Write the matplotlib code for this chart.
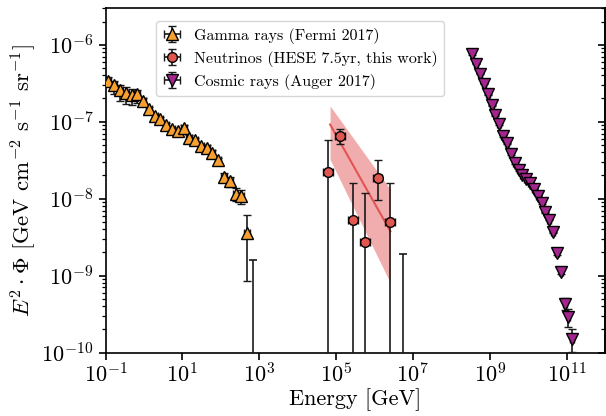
import numpy as np
import matplotlib
matplotlib.use("Agg")
import matplotlib.pyplot as plt

plt.rcParams['font.family'] = 'serif'
plt.rcParams['font.serif'] = ['cmr10', 'DejaVu Serif']
plt.rcParams['mathtext.fontset'] = 'cm'
plt.rcParams['axes.formatter.use_mathtext'] = True

# ---------------- Gamma rays (Fermi 2017) ----------------
gamma_E = [0.119, 0.168, 0.238, 0.337, 0.475, 0.673, 0.951, 1.35, 1.90, 2.69,
           3.80, 5.38, 7.60, 10.8, 15.2, 21.5, 30.4, 43.1, 60.8, 86.1,
           122, 172, 243, 344, 486]
gamma_flux = [3.37e-7, 2.96e-7, 2.58e-7, 2.33e-7, 2.22e-7, 2.26e-7, 1.85e-7, 1.44e-7,
              1.18e-7, 1.07e-7, 8.93e-8, 7.93e-8, 7.53e-8, 8.34e-8, 6.18e-8, 5.75e-8,
              4.80e-8, 4.58e-8, 3.94e-8, 3.15e-8, 1.92e-8, 1.68e-8, 1.16e-8, 1.09e-8, 3.57e-9]
gamma_err_up_dex = [0.05, 0.06, 0.07, 0.08, 0.08, 0.06, 0.04, 0.03, 0.03, 0.03,
                    0.03, 0.03, 0.03, 0.03, 0.03, 0.03, 0.03, 0.03, 0.03, 0.03,
                    0.05, 0.06, 0.07, 0.08, 0.24]
gamma_err_lo_dex = [0.07, 0.11, 0.14, 0.14, 0.13, 0.11, 0.05, 0.03, 0.03, 0.03,
                    0.03, 0.03, 0.03, 0.03, 0.03, 0.03, 0.03, 0.03, 0.03, 0.03,
                    0.05, 0.07, 0.09, 0.11, 0.62]
gamma_bin_halfwidth_dex = 0.075
gamma_ul_E = [700]
gamma_ul_flux = [1.6e-9]

# ---------------- Neutrinos (HESE 7.5 yr) ----------------
nu_E = [6.2e4, 1.29e5, 2.7e5, 5.8e5, 1.2e6, 2.55e6]
nu_flux = [2.20e-8, 6.49e-8, 5.32e-9, 2.70e-9, 1.86e-8, 4.97e-9]
nu_upper = [5.75e-8, 8.09e-8, 1.60e-8, 1.19e-8, 3.13e-8, 1.60e-8]
nu_lower = [0.0, 5.06e-8, 0.0, 0.0, 9.51e-9, 0.0]
nu_bin_halfwidth_dex = 0.13
nu_ul_E = [5.5e6]
nu_ul_flux = [1.92e-9]

# best-fit power law and its uncertainty band
fit_E = [7.0e4, 2.6e6]
fit_flux = [9.2e-8, 3.75e-9]
band_upper = [1.60e-7, 1.31e-8]
band_lower = [3.22e-8, 8.0e-10]

# ---------------- Cosmic rays (Auger 2017) ----------------
cr_logE = [8.55, 8.65, 8.75, 8.85, 8.95, 9.05, 9.15, 9.25, 9.35, 9.45,
           9.55, 9.65, 9.75, 9.85, 9.95, 10.05, 10.15, 10.25, 10.35, 10.45,
           10.55, 10.65, 10.75, 10.85, 10.95, 11.05, 11.15]
cr_log_flux = [-6.124, -6.245, -6.375, -6.506, -6.645, -6.788, -6.919, -7.027, -7.188, -7.283,
               -7.418, -7.535, -7.631, -7.687, -7.739, -7.795, -7.870, -7.961, -8.056, -8.179,
               -8.274, -8.439, -8.708, -8.955, -9.368, -9.541, -9.828]
cr_err_up_dex = [0.01] * 22 + [0.02, 0.03, 0.07, 0.11, 0.13]
cr_err_lo_dex = [0.01] * 22 + [0.02, 0.03, 0.08, 0.13, 0.16]
cr_bin_halfwidth_dex = 0.05

labels = ['Gamma rays (Fermi 2017)', 'Neutrinos (HESE 7.5yr, this work)', 'Cosmic rays (Auger 2017)']
c_gamma = '#F7A030'
c_nu = '#E0574F'
c_cr = '#A3258E'
c_band = '#E14B4B'
ecol = '#1a1a1a'

fig = plt.figure(figsize=(6.06, 4.16), dpi=100)
ax = fig.add_axes([105.5/606, 1-352.5/416, 499.5/606, 344.5/416])
ax.set_xscale('log')
ax.set_yscale('log')

# gamma
gE = np.array(gamma_E); gF = np.array(gamma_flux)
g_yerr = [gF*(1-10**-np.array(gamma_err_lo_dex)), gF*(10**np.array(gamma_err_up_dex)-1)]
g_xerr = [gE*(1-10**-gamma_bin_halfwidth_dex), gE*(10**gamma_bin_halfwidth_dex-1)]
h1 = ax.errorbar(gE, gF, yerr=g_yerr, xerr=g_xerr, fmt='^', ms=8.5, mfc=c_gamma, mec='black',
                 mew=1.0, ecolor=ecol, elinewidth=1.2, capsize=3, capthick=1.2, zorder=4)
ulE = np.array(gamma_ul_E); ulF = np.array(gamma_ul_flux)
ax.errorbar(ulE, ulF, yerr=[ulF-1e-13, ulF*0], fmt='none', ecolor=ecol, elinewidth=1.2,
            capsize=3, capthick=1.2, zorder=3)

# neutrinos band + fit
ax.fill_between(fit_E, band_lower, band_upper, color=c_band, alpha=0.45, lw=0, zorder=1)
ax.plot(fit_E, fit_flux, color=c_band, lw=1.5, alpha=0.9, zorder=2)
nE = np.array(nu_E); nF = np.array(nu_flux)
nlo = np.where(np.array(nu_lower) > 0, np.array(nu_lower), 1e-13)
n_yerr = [nF-nlo, np.array(nu_upper)-nF]
n_xerr = [nE*(1-10**-nu_bin_halfwidth_dex), nE*(10**nu_bin_halfwidth_dex-1)]
h2 = ax.errorbar(nE, nF, yerr=n_yerr, xerr=n_xerr, fmt='o', ms=7, mfc=c_nu, mec='black',
                 mew=1.0, ecolor=ecol, elinewidth=1.2, capsize=3, capthick=1.2, zorder=4)
nulE = np.array(nu_ul_E); nulF = np.array(nu_ul_flux)
ax.errorbar(nulE, nulF, yerr=[nulF-1e-13, nulF*0], fmt='none', ecolor=ecol, elinewidth=1.2,
            capsize=3, capthick=1.2, zorder=3)

# cosmic rays
cE = 10**np.array(cr_logE); cF = 10**np.array(cr_log_flux)
c_yerr = [cF*(1-10**-np.array(cr_err_lo_dex)), cF*(10**np.array(cr_err_up_dex)-1)]
c_xerr = [cE*(1-10**-cr_bin_halfwidth_dex), cE*(10**cr_bin_halfwidth_dex-1)]
h3 = ax.errorbar(cE, cF, yerr=c_yerr, xerr=c_xerr, fmt='v', ms=8.5, mfc=c_cr, mec='black',
                 mew=1.0, ecolor=ecol, elinewidth=1.2, capsize=3, capthick=1.2, zorder=4)

ax.set_xlim(1e-1, 1e12)
ax.set_ylim(1e-10, 3e-6)
ax.set_xticks([10.0**k for k in range(-1, 12, 2)])
ax.xaxis.set_minor_locator(matplotlib.ticker.NullLocator())
ax.tick_params(axis='x', which='major', direction='out', length=5, width=1.2, labelsize=16, pad=2)
ax.tick_params(axis='y', which='both', direction='out', left=True, right=False, labelsize=16)
ax.tick_params(axis='y', which='major', length=5, width=1.2)
ax.tick_params(axis='y', which='minor', length=3, width=0.9)
ax.yaxis.set_minor_locator(matplotlib.ticker.LogLocator(base=10, subs=np.arange(2, 10), numticks=20))
# right-side inward ticks
axr = ax.secondary_yaxis('right')
axr.tick_params(which='both', direction='in', labelright=False)
axr.tick_params(which='major', length=5, width=1.2)
axr.tick_params(which='minor', length=3, width=0.9)
axr.yaxis.set_minor_locator(matplotlib.ticker.LogLocator(base=10, subs=np.arange(2, 10), numticks=20))
axr.yaxis.set_major_formatter(matplotlib.ticker.NullFormatter())
axr.yaxis.set_minor_formatter(matplotlib.ticker.NullFormatter())

for s in ax.spines.values():
    s.set_linewidth(1.2)
axr.spines['right'].set_linewidth(1.2)

ax.set_xlabel('Energy [GeV]', fontsize=16, labelpad=1)
ax.set_ylabel(r'$E^2 \cdot \Phi$ [GeV cm$^{-2}$ s$^{-1}$ sr$^{-1}$]', fontsize=16.5, labelpad=2)

leg = ax.legend([h1, h2, h3], labels, loc='upper left', bbox_to_anchor=(0.085, 0.985),
                fontsize=11.5, frameon=True, fancybox=True, framealpha=0.8, edgecolor='#cccccc',
                handlelength=1.2, borderpad=0.4, labelspacing=0.45)

fig.savefig('out.png', dpi=100)
